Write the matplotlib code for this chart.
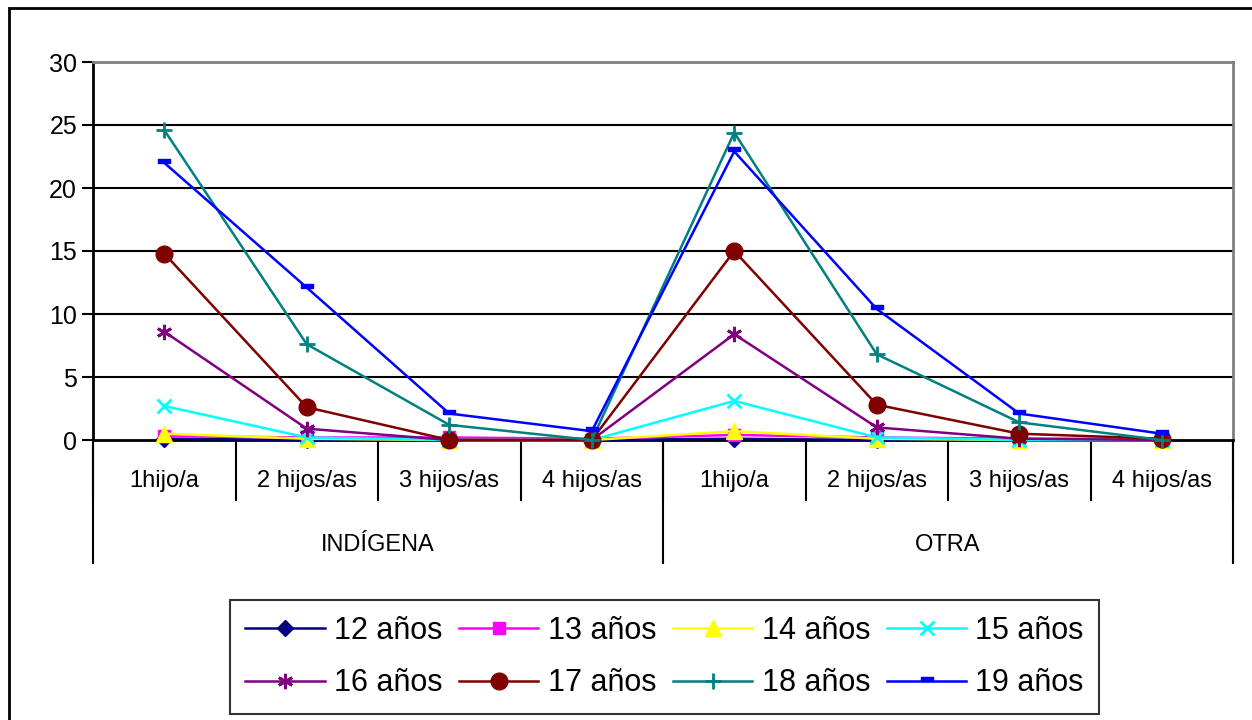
import matplotlib
matplotlib.use("Agg")
import matplotlib.pyplot as plt
from matplotlib.patches import Rectangle
from matplotlib.path import Path

plt.rcParams['font.family'] = ['Liberation Sans', 'DejaVu Sans']

categories = ["1hijo/a", "2 hijos/as", "3 hijos/as", "4 hijos/as",
              "1hijo/a", "2 hijos/as", "3 hijos/as", "4 hijos/as"]
groups = ["INDÍGENA", "OTRA"]

series_names = ["12 años", "13 años", "14 años", "15 años",
                "16 años", "17 años", "18 años", "19 años"]
v12 = [0.1, 0.0, 0.0, 0.0, 0.1, 0.0, 0.0, 0.0]
v13 = [0.3, 0.2, 0.2, 0.1, 0.4, 0.2, 0.1, 0.1]
v14 = [0.5, 0.1, 0.0, 0.0, 0.7, 0.1, 0.0, 0.0]
v15 = [2.7, 0.2, 0.0, 0.0, 3.1, 0.2, 0.0, 0.0]
v16 = [8.6, 0.9, 0.0, 0.0, 8.4, 1.0, 0.1, 0.0]
v17 = [14.8, 2.6, 0.0, 0.0, 15.0, 2.8, 0.5, 0.1]
v18 = [24.6, 7.6, 1.2, 0.0, 24.4, 6.8, 1.4, 0.0]
v19 = [22.0, 12.1, 2.1, 0.7, 22.9, 10.4, 2.1, 0.5]
values = [v12, v13, v14, v15, v16, v17, v18, v19]

colors = ["#000080", "#ff00ff", "#ffff00", "#00ffff",
          "#800080", "#800000", "#008080", "#0000ff"]
dash_marker = Path([(-1, 0), (1, 0), (1, 0.7), (-1, 0.7), (-1, 0)])
markers = ["D", "s", "^", "x", (6, 2, 0), "o", "+", dash_marker]
msizes = [8, 9, 12, 10, 11, 12, 12, 9]

fig = plt.figure(figsize=(12.52, 7.2), dpi=100)
ax = fig.add_axes([93 / 1252, 1 - 440 / 720, 1140 / 1252, 378 / 720])

x = list(range(len(categories)))
handles = []
for name, vals, c, m, ms in zip(series_names, values, colors, markers, msizes):
    h, = ax.plot(x, vals, color=c, marker=m, markersize=ms, lw=1.8, label=name,
                 markeredgewidth=2 if m in ("x", "+") or isinstance(m, tuple) else 1,
                 markeredgecolor=c, clip_on=False, zorder=3)
    handles.append(h)

ax.set_xlim(-0.5, 7.5)
ax.set_ylim(0, 30)
ax.set_yticks(range(0, 31, 5))
ax.tick_params(axis='y', labelsize=18, length=8, width=1.5, direction='out')
for y in range(5, 30, 5):
    ax.axhline(y, color='black', lw=1.5, zorder=1)
ax.set_xticks([])
for side in ['top', 'right']:
    ax.spines[side].set_color('#808080')
    ax.spines[side].set_linewidth(2)
ax.spines['left'].set_linewidth(2)
ax.spines['bottom'].set_linewidth(2)

# category axis with nested labels
tr = ax.get_xaxis_transform()
for b in [-0.5 + i for i in range(9)]:
    ax.plot([b, b], [0, -60 / 378], color='black', lw=1.5, transform=tr, clip_on=False)
for b in [-0.5, 3.5, 7.5]:
    ax.plot([b, b], [0, -123 / 378], color='black', lw=1.5, transform=tr, clip_on=False)
for i, lab in enumerate(categories):
    ax.text(i, -41 / 378, lab, transform=tr, ha='center', va='center', fontsize=17)
for i, g in enumerate(groups):
    ax.text(1.5 + 4 * i, -105 / 378, g, transform=tr, ha='center', va='center', fontsize=17)

# legend filled row by row
order = [0, 4, 1, 5, 2, 6, 3, 7]
leg = fig.legend([handles[i] for i in order], [series_names[i] for i in order],
                 loc='center', bbox_to_anchor=(664.5 / 1252, 1 - 657 / 720), ncol=4,
                 fontsize=22, frameon=True, fancybox=False, edgecolor='black',
                 handlelength=2.6, handletextpad=0.3, columnspacing=0.55,
                 labelspacing=0.75, borderpad=0.5, borderaxespad=0)
leg.get_frame().set_linewidth(1.5)

fig.patches.append(Rectangle((9 / 1252, -0.1), 2, 1 - 8 / 720 + 0.1, transform=fig.transFigure,
                             fill=False, edgecolor='black', lw=2))

fig.savefig("out.png", dpi=100)
